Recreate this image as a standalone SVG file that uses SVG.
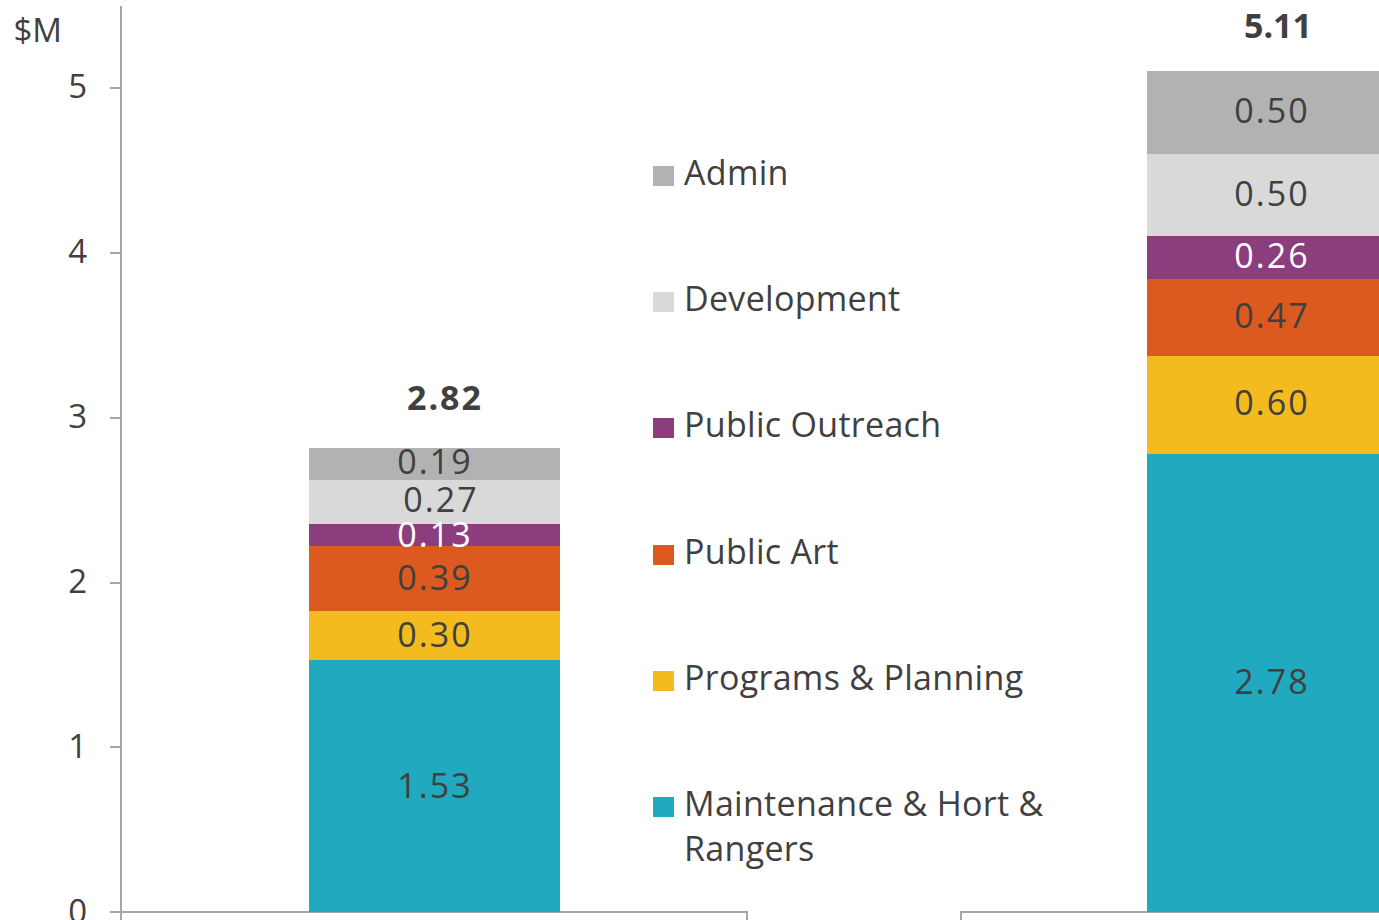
<svg xmlns="http://www.w3.org/2000/svg" width="1379" height="920" viewBox="0 0 1379 920">
<style>
text{font-family:"Open Sans","Liberation Sans",sans-serif;fill:#404040;font-size:34px}
.lg{letter-spacing:0.3px}
.ax{font-size:33px;text-anchor:end}
.v{text-anchor:middle;letter-spacing:2px}
.w{fill:#ffffff}
.t{font-weight:bold;text-anchor:middle;letter-spacing:2px;font-size:34px}
.axis{stroke:#a6a6a6;stroke-width:2;fill:none}
</style>
<rect width="1379" height="920" fill="#ffffff"/>
<g id="axes">
<path class="axis" d="M121 6V920M110 88H121M110 253H121M110 418H121M110 583H121M110 747H121M110 912H747V920M961 920V912H1379"/>
<text x="62" y="42" class="ax">$M</text>
<text x="87" y="98" class="ax">5</text>
<text x="87" y="263" class="ax">4</text>
<text x="87" y="428" class="ax">3</text>
<text x="87" y="593" class="ax">2</text>
<text x="87" y="758" class="ax">1</text>
<text x="87" y="923" class="ax">0</text>
</g>
<g id="bar1">
<rect x="309" y="660" width="251" height="252" fill="#21a9bf"/>
<rect x="309" y="611" width="251" height="49" fill="#f4bb1e"/>
<rect x="309" y="546" width="251" height="65" fill="#dc5a20"/>
<rect x="309" y="524" width="251" height="22" fill="#8b3d7d"/>
<rect x="309" y="480" width="251" height="44" fill="#d9d9d9"/>
<rect x="309" y="448" width="251" height="32" fill="#b2b2b2"/>
<text x="435" y="798" class="v">1.53</text>
<text x="435" y="647" class="v">0.30</text>
<text x="435" y="590" class="v">0.39</text>
<text x="435" y="547" class="v w">0.13</text>
<text x="441" y="512" class="v">0.27</text>
<text x="435" y="474" class="v">0.19</text>
<text x="445" y="410" class="t">2.82</text>
</g>
<g id="bar2">
<rect x="1147" y="454" width="251" height="458" fill="#21a9bf"/>
<rect x="1147" y="356" width="251" height="98" fill="#f4bb1e"/>
<rect x="1147" y="279" width="251" height="77" fill="#dc5a20"/>
<rect x="1147" y="236" width="251" height="43" fill="#8b3d7d"/>
<rect x="1147" y="154" width="251" height="82" fill="#d9d9d9"/>
<rect x="1147" y="71" width="251" height="83" fill="#b2b2b2"/>
<text x="1272" y="694" class="v">2.78</text>
<text x="1272" y="415" class="v">0.60</text>
<text x="1272" y="328" class="v">0.47</text>
<text x="1272" y="268" class="v w">0.26</text>
<text x="1272" y="206" class="v">0.50</text>
<text x="1272" y="123" class="v">0.50</text>
<text x="1278" y="38" class="t" style="letter-spacing:0">5.11</text>
</g>
<g id="legend" class="lg">
<g id="leg-admin"><rect x="653" y="166" width="21" height="20" fill="#b2b2b2"/><text x="684" y="185" class="lg">Admin</text></g>
<g id="leg-dev"><rect x="653" y="292" width="21" height="20" fill="#d9d9d9"/><text x="684" y="311" class="lg">Development</text></g>
<g id="leg-outreach"><rect x="653" y="418" width="21" height="20" fill="#8b3d7d"/><text x="684" y="437" class="lg">Public Outreach</text></g>
<g id="leg-art"><rect x="653" y="545" width="21" height="20" fill="#dc5a20"/><text x="684" y="564" class="lg">Public Art</text></g>
<g id="leg-prog"><rect x="653" y="671" width="21" height="20" fill="#f4bb1e"/><text x="684" y="690" class="lg">Programs &amp; Planning</text></g>
<g id="leg-maint"><rect x="653" y="797" width="21" height="20" fill="#21a9bf"/><text x="684" y="816" class="lg">Maintenance &amp; Hort &amp;</text><text x="684" y="861" class="lg">Rangers</text></g>
</g>
</svg>
